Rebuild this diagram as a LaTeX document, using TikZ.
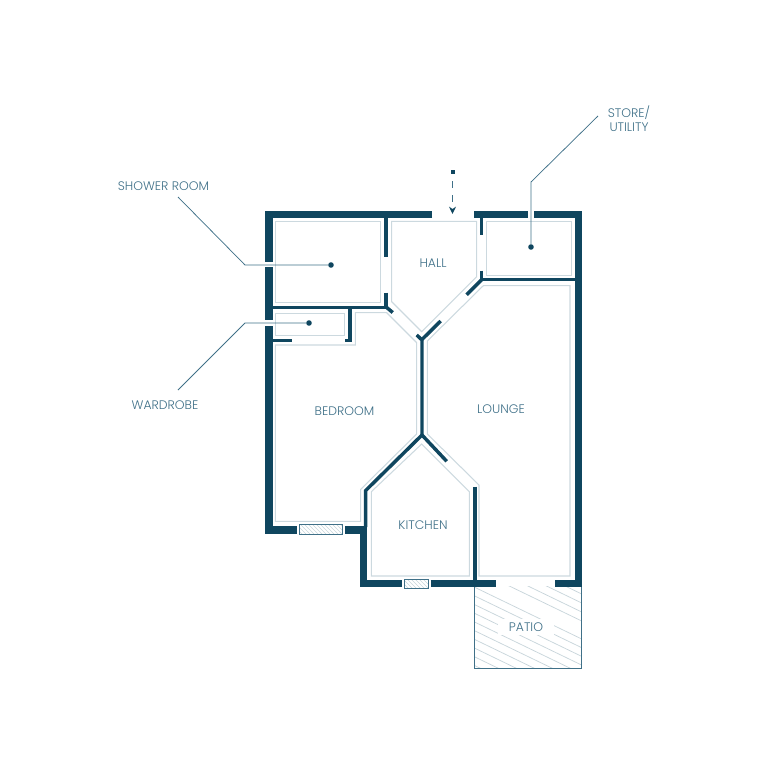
\documentclass[tikz,border=0pt]{standalone}
\usepackage{fontspec}
\setmainfont{Poppins Light}
\usetikzlibrary{arrows.meta}
\usetikzlibrary{patterns}
\definecolor{wallblue}{HTML}{0F465F}
\definecolor{labelblue}{HTML}{3F7088}
\definecolor{roomgrey}{HTML}{CCD9DF}
\definecolor{hatchgrey}{HTML}{C8D5DB}
\tikzset{
  outerwall/.style={draw=wallblue,line width=5.7pt},
  innerwall/.style={draw=wallblue,line width=2.6pt},
  roomline/.style={draw=roomgrey,line width=0.8pt},
  leader/.style={draw=labelblue,line width=0.55pt},
  plate/.style={draw=labelblue,line width=0.7pt,pattern=north west lines,pattern color=hatchgrey},
  roomlabel/.style={text=labelblue,font=\fontsize{9.3pt}{10.5pt}\selectfont,align=center,inner sep=0pt},
  leaderdot/.style={circle,fill=wallblue,inner sep=0pt,minimum size=4.2pt}
}
\begin{document}
\begin{tikzpicture}[line cap=butt,line join=miter,x=0.75pt,y=-0.75pt]
\useasboundingbox (0,0) rectangle (768,768);
% room outlines
\draw [roomline] (275.3,221.3) rectangle (380.3,302.3);
\draw [roomline] (275.3,313.3) rectangle (344.7,335.3);
\draw [roomline] (275.3,345)--(355.3,345)--(355.3,312.7)--(386.7,312.7)--(416.7,342.7)--(416.7,434)--(360.7,489.3)--(360.7,521.3)--(275.3,521.3)--cycle;
\draw [roomline] (421.7,444)--(469.3,491.7)--(469.3,576)--(371.3,576)--(371.3,491.7)--cycle;
\draw [roomline] (483.3,285.7)--(570,285.7)--(570,576)--(479,576)--(479,485)--(427.3,434)--(427.3,341)--cycle;
\draw [roomline] (391.7,221.3)--(476.7,221.3)--(476.7,276.7)--(421.7,331.7)--(391.7,301.7)--cycle;
\draw [roomline] (486.3,221.3) rectangle (571.7,275.3);
% patio
\begin{scope}
\clip (474.7,586) rectangle (581.3,668.3);
\foreach \y in {531,540,549,558,567,585,593.7,602.4,611.1,619.8,628.5,637.2,645.9,654.6,663.3}
  \draw [draw=hatchgrey,line width=0.55pt] (470,\y)--(590,\y+58);
\end{scope}
\draw [draw=labelblue,line width=0.9pt] (474.7,587)--(474.7,668.3)--(581.3,668.3)--(581.3,587);
% outer walls
\draw [outerwall] (432,214.5)--(268.8,214.5)--(268.8,261.7);
\draw [outerwall] (268.8,267.3)--(268.8,320);
\draw [outerwall] (268.8,326)--(268.8,529.7)--(296.7,529.7);
\draw [outerwall] (345,529.7)--(363.5,529.7);
\draw [outerwall] (363.5,526)--(363.5,583.5)--(401.7,583.5);
\draw [outerwall] (430.7,583.5)--(496,583.5);
\draw [outerwall] (474.3,214.5)--(527.7,214.5);
\draw [outerwall] (534,214.5)--(578.3,214.5)--(578.3,583.5)--(555,583.5);
% inner walls
\draw [innerwall] (386,218)--(386,257.3);
\draw [innerwall] (386,292.7)--(386,307.3)--(272,307.3);
\draw [innerwall] (385.5,306.5)--(392.7,312.5);
\draw [innerwall] (350,307.3)--(350,340.6)--(345,340.6);
\draw [innerwall] (272,340.6)--(291.7,340.6);
\draw [innerwall] (481.7,218)--(481.7,235);
\draw [innerwall] (481.7,270.7)--(481.7,279.7)--(575,279.7);
\draw [innerwall] (481.7,279.7)--(466.7,294.7);
\draw [innerwall] (440.7,321)--(422,339.5);
\draw [innerwall] (416.7,335)--(422,340)--(422,435);
\draw [innerwall] (446.7,461.3)--(422,435)--(365.7,490.5)--(365.7,527);
\draw [innerwall] (474.8,486.5)--(474.8,581);
% windows
\draw [plate] (299.3,524.3) rectangle (342.3,534.3);
\draw [plate] (404,579.3) rectangle (428.3,588.3);
% leaders
\node [leaderdot] (showerdot) at (331,265) {};
\node [leaderdot] (wardrobedot) at (309,323) {};
\node [leaderdot] (storedot) at (531,247) {};
\coordinate (showerbend) at (245,265);
\coordinate (showerend) at (178,197);
\coordinate (wardrobebend) at (245,323);
\coordinate (wardrobeend) at (178,390);
\coordinate (storebend) at (531,182);
\coordinate (storeend) at (598,116);
\draw [leader] (showerdot)--(showerbend)--(showerend);
\draw [leader] (wardrobedot)--(wardrobebend)--(wardrobeend);
\draw [leader] (storedot)--(storebend)--(storeend);
% entrance
\node [fill=wallblue,inner sep=0pt,minimum size=3pt] (entrydot) at (452.5,172) {};
\coordinate (entryend) at (452.5,214);
\draw [draw=labelblue,line width=1pt,dash pattern=on 5.25pt off 5.25pt,dash phase=5.25pt,-{Stealth[wallblue,length=5.5pt,width=5.2pt]}] (entrydot)--(entryend);
% labels
\node [roomlabel] (showerlabel) at (163.5,186) {SHOWER ROOM};
\node [roomlabel] (wardrobelabel) at (165,405) {WARDROBE};
\node [roomlabel] (storelabel) at (629,118.5) {STORE/\\UTILITY};
\node [roomlabel] (halllabel) at (433,263.5) {HALL};
\node [roomlabel] (bedroomlabel) at (344.5,411) {BEDROOM};
\node [roomlabel] (loungelabel) at (501,409) {LOUNGE};
\node [roomlabel] (kitchenlabel) at (423,525) {KITCHEN};
\node [roomlabel,fill=white,inner xsep=8pt,inner ysep=3pt] (patiolabel) at (526,627) {PATIO};
\end{tikzpicture}
\end{document}
